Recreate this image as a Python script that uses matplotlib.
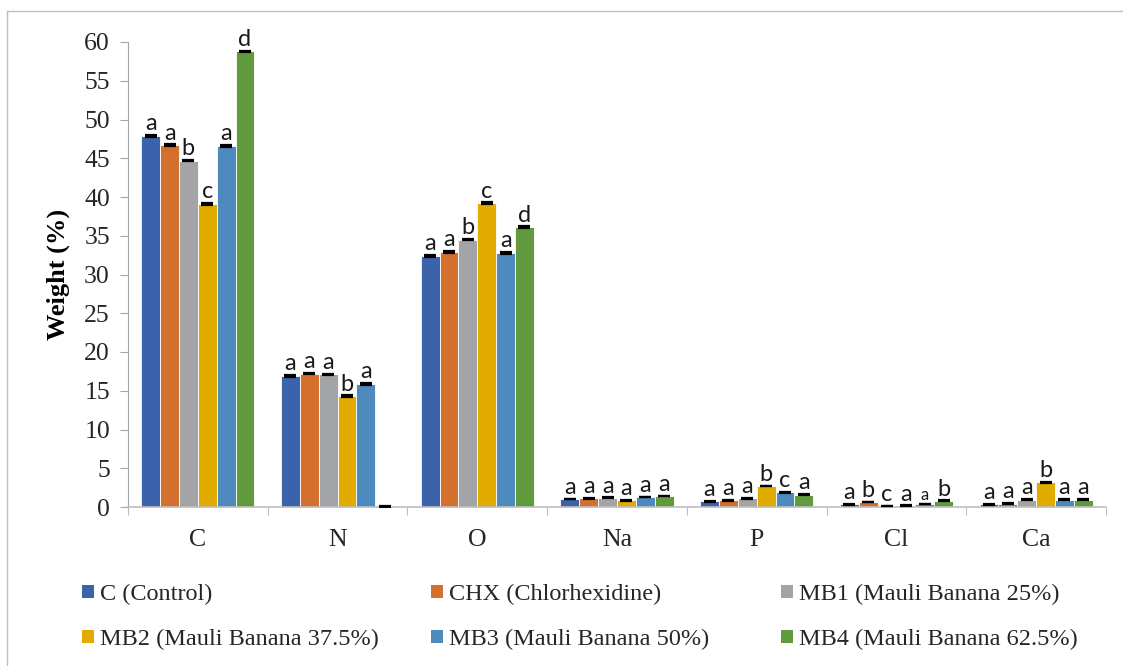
import numpy as np
import matplotlib
matplotlib.use("Agg")
from matplotlib import pyplot as plt
from matplotlib.patches import Patch
from matplotlib.lines import Line2D

elements = ["C", "N", "O", "Na", "P", "Cl", "Ca"]
groups = ["C (Control)", "CHX (Chlorhexidine)", "MB1 (Mauli Banana 25%)",
          "MB2 (Mauli Banana 37.5%)", "MB3 (Mauli Banana 50%)", "MB4 (Mauli Banana 62.5%)"]

control = [47.9, 16.9, 32.4, 1.03, 0.73, 0.35, 0.35]
chx = [46.7, 17.2, 32.9, 1.1, 0.85, 0.65, 0.45]
mb1 = [44.7, 17.1, 34.5, 1.2, 1.1, 0.13, 0.95]
mb2 = [39.1, 14.3, 39.2, 0.86, 2.7, 0.15, 3.2]
mb3 = [46.6, 15.9, 32.8, 1.3, 1.9, 0.4, 0.95]
mb4 = [58.8, 0.0, 36.1, 1.42, 1.6, 0.8, 0.95]

err = [0.1, 0.1, 0.1, 0.05, 0.05, 0.05, 0.05]

letters = [
    ["a", "a", "a", "a", "a", "a", "a"],
    ["a", "a", "a", "a", "a", "b", "a"],
    ["b", "a", "b", "a", "a", "c", "a"],
    ["c", "b", "c", "a", "b", "a", "b"],
    ["a", "a", "a", "a", "c", "a", "a"],
    ["d", "", "d", "a", "a", "b", "a"],
]

series = [control, chx, mb1, mb2, mb3, mb4]
colors = ["#3B63AC", "#D4702D", "#A3A4A7", "#E2AB00", "#4F8ABF", "#629A3E"]

plt.rcParams["font.family"] = ["Liberation Serif", "DejaVu Serif"]

fig = plt.figure(figsize=(11.23, 6.66), dpi=100)
ax = fig.add_axes([128 / 1123, 1 - 507 / 666, (1106 - 128) / 1123, (507 - 42) / 666])

x = np.arange(len(elements))
w = 0.135
for i, vals in enumerate(series):
    pos = x + (i - 2.5) * w
    ax.bar(pos, vals, w, color=colors[i], edgecolor="white", linewidth=0.6, zorder=2)
    ax.errorbar(pos, vals, yerr=err, fmt="none", ecolor="black", elinewidth=1.2,
                capsize=4.5, capthick=1.6, zorder=3)
    for j, (p, v, lab, e) in enumerate(zip(pos, vals, letters[i], err)):
        if lab:
            small = (i == 4 and elements[j] == "Cl")
            ax.text(p, v + e + 0.1, lab, ha="center", va="bottom",
                    fontsize=12 if small else 17, family="Lato", color="#1a1a1a",
                    clip_on=False, zorder=4)

ax.set_xlim(-0.5, len(elements) - 0.5)
ax.set_ylim(0, 60)
ax.set_yticks(np.arange(0, 61, 5))
ax.set_xticks(np.arange(-0.5, len(elements), 1))
ax.set_xticklabels([])
ax.set_xticks(x, minor=True)
ax.set_xticklabels(elements, minor=True)
ax.tick_params(axis="x", which="major", direction="out", length=6, color="#BFBFBF")
ax.tick_params(axis="x", which="minor", length=0, pad=16, labelsize=18.5, labelcolor="#262626")
ax.tick_params(axis="y", direction="out", length=6, color="#A6A6A6", pad=7,
               labelsize=18.5, labelcolor="#262626")
for s in ["top", "right"]:
    ax.spines[s].set_visible(False)
ax.spines["left"].set_color("#A6A6A6")
ax.spines["bottom"].set_color("#BFBFBF")
ax.spines["bottom"].set_linewidth(1.2)
ax.set_ylabel("Weight (%)", fontsize=19, fontweight="bold")
ax.yaxis.set_label_coords(-58 / 978, 0.5)

handles = [Patch(facecolor=c, edgecolor="none") for c in colors]
col_x = [82, 431, 781]
for k in range(3):
    idx = [k, k + 3]
    fig.legend([handles[j] for j in idx], [groups[j] for j in idx],
               loc="upper left", bbox_to_anchor=(col_x[k] / 1123, 1 - 584 / 666),
               frameon=False, fontsize=17.5, handlelength=0.5, handleheight=0.5,
               handletextpad=0.25, labelspacing=0.98, borderpad=0, borderaxespad=0,
               labelcolor="#262626")

fig.add_artist(Line2D([7 / 1123, 7 / 1123], [0, 1 - 11 / 666], color="#BFBFBF", lw=1))
fig.add_artist(Line2D([7 / 1123, 1], [1 - 11 / 666, 1 - 11 / 666], color="#BFBFBF", lw=1))

fig.savefig("out.png", dpi=100)
